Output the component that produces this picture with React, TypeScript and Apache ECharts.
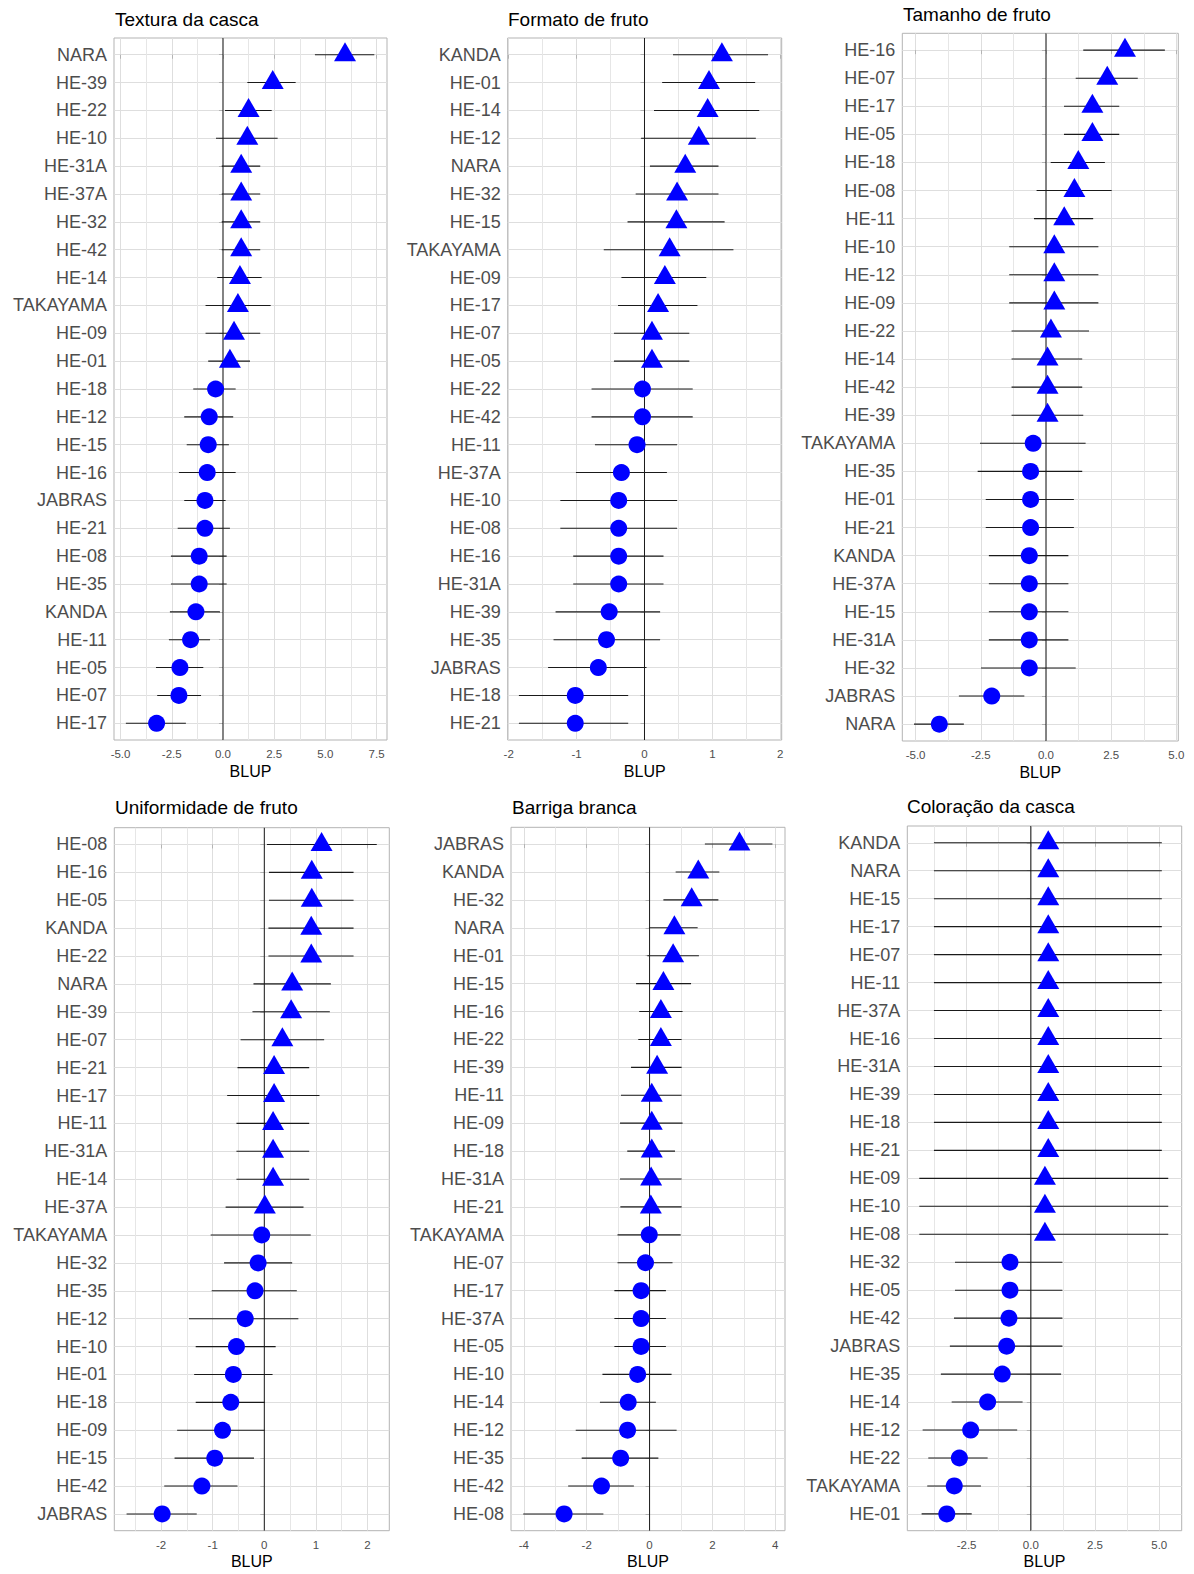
import React, { useEffect, useRef } from "react";
import * as echarts from "echarts";

const FONT = '"Liberation Sans", Arial, Helvetica, sans-serif';

// ---------- Textura da casca ----------
const texturaCats = ["NARA", "HE-39", "HE-22", "HE-10", "HE-31A", "HE-37A", "HE-32", "HE-42", "HE-14", "TAKAYAMA", "HE-09", "HE-01", "HE-18", "HE-12", "HE-15", "HE-16", "JABRAS", "HE-21", "HE-08", "HE-35", "KANDA", "HE-11", "HE-05", "HE-07", "HE-17"];
const texturaBlup = [5.96, 2.43, 1.25, 1.19, 0.89, 0.89, 0.89, 0.89, 0.83, 0.73, 0.54, 0.34, -0.36, -0.67, -0.72, -0.77, -0.88, -0.88, -1.16, -1.16, -1.32, -1.58, -2.10, -2.15, -3.24];
const texturaLo = [4.49, 1.19, 0.10, -0.34, -0.06, -0.06, -0.06, -0.06, -0.28, -0.85, -0.85, -0.72, -1.45, -1.89, -1.77, -2.15, -1.89, -2.21, -2.54, -2.54, -2.59, -2.64, -3.27, -3.21, -4.74];
const texturaHi = [7.39, 3.55, 2.38, 2.67, 1.82, 1.82, 1.82, 1.82, 1.89, 2.33, 1.82, 1.32, 0.62, 0.50, 0.29, 0.62, 0.13, 0.34, 0.18, 0.18, -0.15, -0.63, -0.96, -1.07, -1.81];
const texturaMajor = [-5, -2.5, 0, 2.5, 5, 7.5];
const texturaMinor = [-3.75, -1.25, 1.25, 3.75, 6.25];

// ---------- Formato de fruto ----------
const formatoCats = ["KANDA", "HE-01", "HE-14", "HE-12", "NARA", "HE-32", "HE-15", "TAKAYAMA", "HE-09", "HE-17", "HE-07", "HE-05", "HE-22", "HE-42", "HE-11", "HE-37A", "HE-10", "HE-08", "HE-16", "HE-31A", "HE-39", "HE-35", "JABRAS", "HE-18", "HE-21"];
const formatoBlup = [1.14, 0.95, 0.93, 0.80, 0.60, 0.48, 0.47, 0.37, 0.30, 0.20, 0.11, 0.11, -0.03, -0.03, -0.11, -0.34, -0.38, -0.38, -0.38, -0.38, -0.52, -0.56, -0.68, -1.02, -1.02];
const formatoLo = [0.42, 0.26, 0.14, -0.05, 0.08, -0.13, -0.25, -0.60, -0.34, -0.39, -0.45, -0.45, -0.78, -0.78, -0.73, -1.01, -1.24, -1.24, -1.05, -1.05, -1.31, -1.34, -1.42, -1.85, -1.85];
const formatoHi = [1.82, 1.63, 1.69, 1.64, 1.09, 1.09, 1.18, 1.31, 0.91, 0.78, 0.66, 0.66, 0.71, 0.71, 0.48, 0.33, 0.48, 0.48, 0.28, 0.28, 0.23, 0.23, 0.03, -0.24, -0.24];
const formatoMajor = [-2, -1, 0, 1, 2];
const formatoMinor = [-1.5, -0.5, 0.5, 1.5];

// ---------- Tamanho de fruto ----------
const tamanhoCats = ["HE-16", "HE-07", "HE-17", "HE-05", "HE-18", "HE-08", "HE-11", "HE-10", "HE-12", "HE-09", "HE-22", "HE-14", "HE-42", "HE-39", "TAKAYAMA", "HE-35", "HE-01", "HE-21", "KANDA", "HE-37A", "HE-15", "HE-31A", "HE-32", "JABRAS", "NARA"];
const tamanhoBlup = [3.03, 2.35, 1.78, 1.78, 1.24, 1.09, 0.70, 0.32, 0.32, 0.32, 0.19, 0.06, 0.06, 0.06, -0.49, -0.59, -0.59, -0.59, -0.64, -0.64, -0.64, -0.64, -0.64, -2.08, -4.09];
const tamanhoLo = [1.43, 1.14, 0.69, 0.69, 0.18, -0.36, -0.46, -1.41, -1.41, -1.41, -1.32, -1.32, -1.32, -1.32, -2.53, -2.62, -2.31, -2.31, -2.19, -2.19, -2.19, -2.19, -2.49, -3.34, -5.06];
const tamanhoHi = [4.56, 3.52, 2.81, 2.81, 2.26, 2.52, 1.81, 2.01, 2.01, 2.01, 1.65, 1.39, 1.39, 1.43, 1.52, 1.39, 1.07, 1.07, 0.86, 0.86, 0.86, 0.86, 1.14, -0.83, -3.15];
const tamanhoMajor = [-5, -2.5, 0, 2.5, 5];
const tamanhoMinor = [-3.75, -1.25, 1.25, 3.75];

// ---------- Uniformidade de fruto ----------
const uniformCats = ["HE-08", "HE-16", "HE-05", "KANDA", "HE-22", "NARA", "HE-39", "HE-07", "HE-21", "HE-17", "HE-11", "HE-31A", "HE-14", "HE-37A", "TAKAYAMA", "HE-32", "HE-35", "HE-12", "HE-10", "HE-01", "HE-18", "HE-09", "HE-15", "HE-42", "JABRAS"];
const uniformBlup = [1.11, 0.92, 0.92, 0.91, 0.91, 0.54, 0.52, 0.35, 0.19, 0.19, 0.17, 0.17, 0.17, 0.01, -0.05, -0.12, -0.18, -0.37, -0.54, -0.60, -0.65, -0.81, -0.96, -1.21, -1.98];
const uniformLo = [0.05, 0.09, 0.09, 0.08, 0.08, -0.21, -0.23, -0.46, -0.52, -0.72, -0.54, -0.54, -0.54, -0.75, -1.04, -0.78, -1.02, -1.46, -1.33, -1.36, -1.33, -1.69, -1.74, -1.94, -2.67];
const uniformHi = [2.18, 1.73, 1.73, 1.73, 1.73, 1.29, 1.27, 1.16, 0.87, 1.07, 0.87, 0.87, 0.87, 0.76, 0.90, 0.54, 0.63, 0.66, 0.22, 0.16, 0.01, 0.01, -0.20, -0.52, -1.31];
const uniformMajor = [-2, -1, 0, 1, 2];
const uniformMinor = [-2.5, -1.5, -0.5, 0.5, 1.5];

// ---------- Barriga branca ----------
const barrigaCats = ["JABRAS", "KANDA", "HE-32", "NARA", "HE-01", "HE-15", "HE-16", "HE-22", "HE-39", "HE-11", "HE-09", "HE-18", "HE-31A", "HE-21", "TAKAYAMA", "HE-07", "HE-17", "HE-37A", "HE-05", "HE-10", "HE-14", "HE-12", "HE-35", "HE-42", "HE-08"];
const barrigaBlup = [2.86, 1.55, 1.34, 0.79, 0.75, 0.44, 0.36, 0.36, 0.24, 0.07, 0.07, 0.07, 0.05, 0.04, -0.01, -0.13, -0.27, -0.27, -0.27, -0.38, -0.68, -0.70, -0.92, -1.53, -2.72];
const barrigaLo = [1.76, 0.83, 0.44, -0.02, -0.07, -0.43, -0.33, -0.36, -0.59, -0.91, -0.94, -0.71, -0.94, -0.93, -1.02, -1.02, -1.12, -1.12, -1.12, -1.50, -1.58, -2.35, -2.16, -2.59, -4.02];
const barrigaHi = [3.91, 2.22, 2.19, 1.53, 1.57, 1.32, 1.05, 1.02, 1.02, 1.02, 1.05, 0.81, 1.02, 1.02, 0.99, 0.73, 0.52, 0.52, 0.52, 0.70, 0.20, 0.86, 0.28, -0.50, -1.47];
const barrigaMajor = [-4, -2, 0, 2, 4];
const barrigaMinor = [-3, -1, 1, 3];

// ---------- Coloração da casca ----------
const coloracaoCats = ["KANDA", "NARA", "HE-15", "HE-17", "HE-07", "HE-11", "HE-37A", "HE-16", "HE-31A", "HE-39", "HE-18", "HE-21", "HE-09", "HE-10", "HE-08", "HE-32", "HE-05", "HE-42", "JABRAS", "HE-35", "HE-14", "HE-12", "HE-22", "TAKAYAMA", "HE-01"];
const coloracaoBlup = [0.68, 0.68, 0.68, 0.68, 0.68, 0.68, 0.68, 0.68, 0.68, 0.68, 0.68, 0.68, 0.55, 0.55, 0.55, -0.81, -0.81, -0.85, -0.94, -1.11, -1.68, -2.34, -2.78, -2.98, -3.27];
const coloracaoLo = [-3.77, -3.77, -3.77, -3.77, -3.77, -3.77, -3.77, -3.77, -3.77, -3.77, -3.77, -3.77, -4.34, -4.34, -4.34, -2.95, -2.95, -2.99, -3.15, -3.50, -3.08, -4.21, -3.99, -4.03, -4.25];
const coloracaoHi = [5.10, 5.10, 5.10, 5.10, 5.10, 5.10, 5.10, 5.10, 5.10, 5.10, 5.10, 5.10, 5.35, 5.35, 5.35, 1.23, 1.23, 1.23, 1.23, 1.18, -0.32, -0.53, -1.68, -1.94, -2.30];
const coloracaoMajor = [-2.5, 0, 2.5, 5];
const coloracaoMinor = [-3.75, -1.25, 1.25, 3.75];

const xTitle = "BLUP";

// Layout (plot-area boxes in px, x-limits in data units)
const panels = [
  { title: "Textura da casca", cats: texturaCats, blup: texturaBlup, lo: texturaLo, hi: texturaHi, major: texturaMajor, minor: texturaMinor, dec: 1, box: [114, 387, 38, 740], xmin: -5.32, xmax: 8.01, titleTop: 10, titleLeft: 115 },
  { title: "Formato de fruto", cats: formatoCats, blup: formatoBlup, lo: formatoLo, hi: formatoHi, major: formatoMajor, minor: formatoMinor, dec: 0, box: [507.7, 781.7, 38, 740], xmin: -2.015, xmax: 2.021, titleTop: 10, titleLeft: 508 },
  { title: "Tamanho de fruto", cats: tamanhoCats, blup: tamanhoBlup, lo: tamanhoLo, hi: tamanhoHi, major: tamanhoMajor, minor: tamanhoMinor, dec: 1, box: [902.3, 1178.3, 33.3, 741], xmin: -5.51, xmax: 5.075, titleTop: 5, titleLeft: 903 },
  { title: "Uniformidade de fruto", cats: uniformCats, blup: uniformBlup, lo: uniformLo, hi: uniformHi, major: uniformMajor, minor: uniformMinor, dec: 0, box: [114.3, 389.3, 827.7, 1530.7], xmin: -2.908, xmax: 2.423, titleTop: 798, titleLeft: 115 },
  { title: "Barriga branca", cats: barrigaCats, blup: barrigaBlup, lo: barrigaLo, hi: barrigaHi, major: barrigaMajor, minor: barrigaMinor, dec: 0, box: [511, 785, 827.3, 1530.7], xmin: -4.41, xmax: 4.31, titleTop: 798, titleLeft: 512 },
  { title: "Coloração da casca", cats: coloracaoCats, blup: coloracaoBlup, lo: coloracaoLo, hi: coloracaoHi, major: coloracaoMajor, minor: coloracaoMinor, dec: 1, box: [907.3, 1181.7, 826, 1530.7], xmin: -4.807, xmax: 5.874, titleTop: 797, titleLeft: 907 },
];

export default function App() {
  const ref = useRef<HTMLDivElement>(null);

  useEffect(() => {
    if (!ref.current) return;
    const chart = echarts.init(ref.current, null, { renderer: "svg" });

    const grid: any[] = [];
    const xAxis: any[] = [];
    const yAxis: any[] = [];
    const series: any[] = [];
    const title: any[] = [];

    panels.forEach((p, i) => {
      const [L, R, T, B] = p.box;
      const n = p.cats.length;
      const idx = p.cats.map((_, k) => k);
      grid.push({
        left: L, top: T, width: R - L, height: B - T,
        show: true, borderColor: "#b3b3b3", borderWidth: 1, backgroundColor: "transparent",
      });
      title.push({
        text: p.title, left: p.titleLeft, top: p.titleTop, padding: 0,
        textStyle: { fontSize: 19, fontWeight: "normal", color: "#000", fontFamily: FONT },
      });
      xAxis.push({
        gridIndex: i, type: "value", position: "bottom", min: p.xmin, max: p.xmax,
        axisLine: { show: false },
        axisTick: { show: true, length: 4, lineStyle: { color: "#b3b3b3" }, customValues: p.major },
        axisLabel: {
          customValues: p.major, fontSize: 11.5, color: "#4d4d4d", margin: 8, fontFamily: FONT,
          formatter: (v: number) => v.toFixed(p.dec),
        },
        splitLine: { show: true, lineStyle: { color: "#dedede", width: 1 } },
        name: xTitle, nameLocation: "middle", nameGap: 23,
        nameTextStyle: { fontSize: 16, color: "#000", fontFamily: FONT },
      });
      xAxis.push({
        gridIndex: i, type: "value", position: "bottom", min: p.xmin, max: p.xmax,
        axisLine: { show: false },
        axisTick: { show: false, customValues: p.minor },
        axisLabel: { show: false },
        splitLine: { show: true, lineStyle: { color: "#e6e6e6", width: 1 } },
      });
      yAxis.push({
        gridIndex: i, type: "value", inverse: true, min: -0.6, max: n - 1 + 0.6,
        axisLine: { show: false },
        axisTick: { show: true, length: 4, lineStyle: { color: "#b3b3b3" }, customValues: idx },
        axisLabel: {
          customValues: idx, fontSize: 18, color: "#4d4d4d", margin: 7, fontFamily: FONT,
          formatter: (v: number) => p.cats[Math.round(v)] ?? "",
        },
        splitLine: { show: true, lineStyle: { color: "#dedede", width: 1 } },
      });

      // zero reference line
      series.push({
        type: "line", xAxisIndex: 2 * i, yAxisIndex: i, silent: true, z: 1,
        symbol: "none", data: [[0, -0.6], [0, n - 1 + 0.6]],
        lineStyle: { color: "#1a1a1a", width: 1 },
      });
      // error bars
      series.push({
        type: "custom", xAxisIndex: 2 * i, yAxisIndex: i, silent: true, z: 2,
        data: p.cats.map((_, k) => [p.lo[k], p.hi[k], k]),
        encode: { x: [0, 1], y: 2 },
        renderItem: (params: any, api: any) => {
          const a = api.coord([api.value(0), api.value(2)]);
          const b = api.coord([api.value(1), api.value(2)]);
          return {
            type: "line",
            shape: { x1: a[0], y1: a[1], x2: b[0], y2: b[1] },
            style: { stroke: "#1a1a1a", lineWidth: 1.1 },
          };
        },
      });
      const tri: number[][] = [];
      const circ: number[][] = [];
      p.blup.forEach((v, k) => (v > 0 ? tri : circ).push([v, k]));
      series.push({
        type: "scatter", xAxisIndex: 2 * i, yAxisIndex: i, silent: true, z: 3,
        data: tri, symbol: "triangle", symbolSize: [22, 19], symbolOffset: [0, -3],
        itemStyle: { color: "#0000ff", opacity: 1 },
      });
      series.push({
        type: "scatter", xAxisIndex: 2 * i, yAxisIndex: i, silent: true, z: 3,
        data: circ, symbol: "circle", symbolSize: 17,
        itemStyle: { color: "#0000ff", opacity: 1 },
      });
    });

    chart.setOption({
      animation: false,
      backgroundColor: "#ffffff",
      textStyle: { fontFamily: FONT },
      title, grid, xAxis, yAxis, series,
    });

    return () => chart.dispose();
  }, []);

  return (
    <div
      ref={ref}
      style={{ position: "absolute", left: 0, top: 0, width: 1194, height: 1574, background: "#fff" }}
    />
  );
}
